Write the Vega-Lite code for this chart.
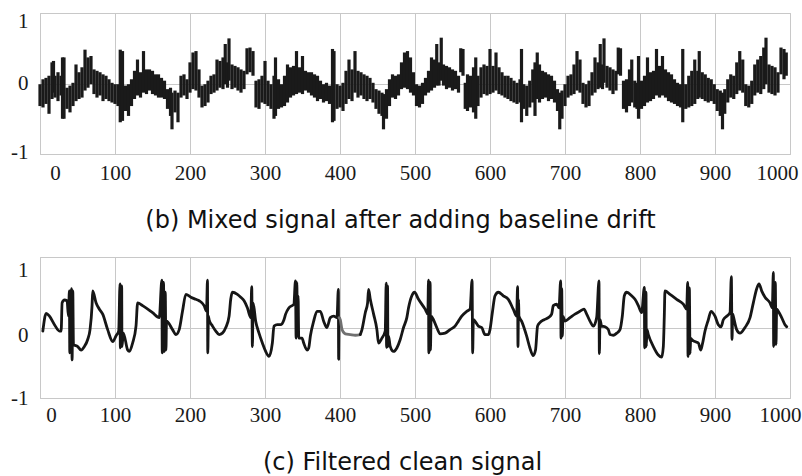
{
"$schema": "https://vega.github.io/schema/vega-lite/v6.json",
"background": "white",
"padding": {"left": 10, "top": 9, "right": 5, "bottom": 0},
"config": {
 "view": {"stroke": "#bdbdbd", "strokeWidth": 1},
 "axis": {"domain": false, "ticks": false, "grid": true, "gridColor": "#c8c8c8", "gridWidth": 1,
  "labelFont": "Liberation Serif", "labelFontSize": 21, "labelColor": "#1a1a1a",
  "labelFlush": false, "labelOverlap": false, "labelBound": false,
  "titleFont": "DejaVu Sans", "titleFontSize": 24, "titleFontWeight": "normal", "titleColor": "#111111"}
},
"spacing": 103,
"bounds": "flush",
"vconcat": [
 {
  "width": 750, "height": 141,
  "data": {"name": "mixed"},
  "mark": {"type": "rule", "strokeWidth": 3.2, "color": "#1a1a1a"},
  "encoding": {
   "x": {"field": "x", "type": "quantitative", "scale": {"domain": [0, 1000], "nice": false, "zero": false},
    "axis": {"values": [0,100,200,300,400,500,600,700,800,900,1000], "labelExpr": "'' + datum.value", "labelPadding": 8,
     "labelOffset": {"condition": [{"test": "datum.value == 0", "value": 15}, {"test": "datum.value == 1000", "value": -13}], "value": 0},
     "title": "(b) Mixed signal after adding baseline drift", "titleX": 360, "titleY": 73, "titleBaseline": "alphabetic", "titleAlign": "center"}},
   "y": {"field": "lo", "type": "quantitative", "scale": {"domain": [-1, 1], "nice": false, "zero": false},
    "axis": {"values": [-1, 0, 1], "labelExpr": "'' + datum.value", "labelPadding": 12,
     "labelOffset": {"condition": [{"test": "datum.value == 1", "value": 8}, {"test": "datum.value == -1", "value": -2}], "value": 0},
     "title": null}},
   "y2": {"field": "hi"}
  }
 },
 {
  "width": 750, "height": 141,
  "data": {"name": "clean"},
  "mark": {"type": "line", "strokeWidth": 2.8, "strokeJoin": "round", "strokeCap": "round", "interpolate": "monotone"},
  "encoding": {
   "x": {"field": "x", "type": "quantitative", "scale": {"domain": [0, 1000], "nice": false, "zero": false},
    "axis": {"values": [0,100,200,300,400,500,600,700,800,900,1000], "labelExpr": "'' + datum.value", "labelPadding": 6,
     "labelOffset": {"condition": [{"test": "datum.value == 0", "value": 11}, {"test": "datum.value == 1000", "value": -10}], "value": 0},
     "title": "(c) Filtered clean signal", "titleX": 362, "titleY": 71, "titleBaseline": "alphabetic", "titleAlign": "center"}},
   "y": {"field": "y", "type": "quantitative", "scale": {"domain": [-1, 1], "nice": false, "zero": false},
    "axis": {"values": [-1, 0, 1], "labelExpr": "'' + datum.value", "labelPadding": 12,
     "labelOffset": {"condition": [{"test": "datum.value == 1", "value": 13}, {"test": "datum.value == 0", "value": 8}], "value": 0},
     "title": null}},
   "color": {"field": "p", "type": "nominal", "scale": {"domain": ["a", "g", "b"], "range": ["#161616", "#707070", "#161616"]}, "legend": null}
  }
 }
],
"datasets": {
 "mixed": [
{"x":0,"lo":-0.32,"hi":-0.01},{"x":4,"lo":-0.34,"hi":0.06},{"x":8,"lo":-0.29,"hi":0.08},{"x":12,"lo":-0.43,"hi":0.11},{"x":16,"lo":-0.22,"hi":0.30},{"x":18,"lo":-0.13,"hi":0.32},{"x":20,"lo":-0.20,"hi":0.11},{"x":24,"lo":-0.25,"hi":0.16},{"x":28,"lo":-0.17,"hi":0.11},{"x":30,"lo":-0.50,"hi":0.37},{"x":32,"lo":-0.50,"hi":0.37},{"x":36,"lo":-0.36,"hi":-0.06},{"x":40,"lo":-0.41,"hi":-0.03},{"x":44,"lo":-0.32,"hi":0.01},{"x":48,"lo":-0.25,"hi":0.27},{"x":52,"lo":-0.22,"hi":0.16},{"x":56,"lo":-0.20,"hi":0.23},{"x":60,"lo":-0.10,"hi":0.48},{"x":64,"lo":-0.06,"hi":0.37},{"x":68,"lo":-0.01,"hi":0.39},{"x":72,"lo":-0.15,"hi":0.20},{"x":76,"lo":-0.20,"hi":0.18},{"x":80,"lo":-0.17,"hi":0.16},{"x":84,"lo":-0.25,"hi":0.13},{"x":88,"lo":-0.22,"hi":0.11},{"x":92,"lo":-0.25,"hi":0.06},{"x":96,"lo":-0.27,"hi":0.01},{"x":100,"lo":-0.29,"hi":-0.01},{"x":104,"lo":-0.32,"hi":-0.01},{"x":107,"lo":-0.55,"hi":0.48},{"x":110,"lo":-0.53,"hi":0.46},{"x":114,"lo":-0.39,"hi":-0.03},{"x":118,"lo":-0.46,"hi":-0.01},{"x":122,"lo":-0.32,"hi":0.06},{"x":126,"lo":-0.22,"hi":0.18},{"x":130,"lo":-0.17,"hi":0.34},{"x":134,"lo":-0.20,"hi":0.16},{"x":138,"lo":-0.13,"hi":0.46},{"x":142,"lo":-0.15,"hi":0.20},{"x":146,"lo":-0.10,"hi":0.20},{"x":150,"lo":-0.15,"hi":0.18},{"x":154,"lo":-0.17,"hi":0.13},{"x":158,"lo":-0.20,"hi":0.13},{"x":162,"lo":-0.20,"hi":0.08},{"x":166,"lo":-0.22,"hi":0.04},{"x":170,"lo":-0.36,"hi":-0.08},{"x":174,"lo":-0.46,"hi":-0.06},{"x":176,"lo":-0.65,"hi":-0.13},{"x":180,"lo":-0.41,"hi":-0.10},{"x":184,"lo":-0.55,"hi":-0.13},{"x":188,"lo":-0.20,"hi":0.11},{"x":192,"lo":-0.17,"hi":0.13},{"x":196,"lo":-0.22,"hi":0.06},{"x":200,"lo":-0.13,"hi":0.30},{"x":204,"lo":-0.08,"hi":0.44},{"x":208,"lo":-0.10,"hi":0.46},{"x":212,"lo":-0.20,"hi":0.20},{"x":216,"lo":-0.34,"hi":-0.03},{"x":220,"lo":-0.32,"hi":-0.01},{"x":224,"lo":-0.27,"hi":0.04},{"x":228,"lo":-0.15,"hi":0.11},{"x":232,"lo":-0.13,"hi":0.13},{"x":236,"lo":-0.10,"hi":0.34},{"x":240,"lo":-0.06,"hi":0.32},{"x":244,"lo":-0.08,"hi":0.37},{"x":247,"lo":-0.01,"hi":0.56},{"x":250,"lo":-0.06,"hi":0.30},{"x":252,"lo":0.04,"hi":0.64},{"x":256,"lo":-0.08,"hi":0.27},{"x":260,"lo":-0.06,"hi":0.25},{"x":264,"lo":-0.10,"hi":0.23},{"x":268,"lo":-0.13,"hi":0.20},{"x":272,"lo":-0.08,"hi":0.18},{"x":276,"lo":0.13,"hi":0.50},{"x":280,"lo":0.16,"hi":0.51},{"x":284,"lo":0.11,"hi":0.46},{"x":288,"lo":-0.34,"hi":0.04},{"x":292,"lo":-0.36,"hi":0.06},{"x":296,"lo":-0.27,"hi":0.11},{"x":300,"lo":-0.29,"hi":0.32},{"x":304,"lo":-0.32,"hi":0.04},{"x":308,"lo":-0.36,"hi":-0.01},{"x":312,"lo":-0.50,"hi":0.11},{"x":314,"lo":-0.46,"hi":0.37},{"x":318,"lo":-0.36,"hi":0.06},{"x":322,"lo":-0.34,"hi":-0.01},{"x":326,"lo":-0.32,"hi":0.11},{"x":330,"lo":-0.27,"hi":0.27},{"x":334,"lo":-0.20,"hi":0.23},{"x":338,"lo":-0.17,"hi":0.25},{"x":342,"lo":-0.15,"hi":0.46},{"x":346,"lo":-0.13,"hi":0.23},{"x":350,"lo":-0.15,"hi":0.39},{"x":354,"lo":-0.10,"hi":0.18},{"x":358,"lo":-0.13,"hi":0.16},{"x":362,"lo":-0.17,"hi":0.16},{"x":366,"lo":-0.20,"hi":0.13},{"x":370,"lo":-0.25,"hi":0.11},{"x":374,"lo":-0.22,"hi":0.04},{"x":378,"lo":-0.27,"hi":-0.01},{"x":382,"lo":-0.25,"hi":0.01},{"x":386,"lo":-0.29,"hi":-0.03},{"x":390,"lo":-0.55,"hi":0.49},{"x":392,"lo":-0.53,"hi":0.46},{"x":396,"lo":-0.36,"hi":-0.01},{"x":400,"lo":-0.34,"hi":-0.03},{"x":404,"lo":-0.39,"hi":0.01},{"x":408,"lo":-0.29,"hi":0.18},{"x":412,"lo":-0.22,"hi":0.34},{"x":416,"lo":-0.25,"hi":0.20},{"x":420,"lo":-0.13,"hi":0.46},{"x":424,"lo":-0.20,"hi":0.18},{"x":428,"lo":-0.17,"hi":0.16},{"x":432,"lo":-0.22,"hi":0.13},{"x":436,"lo":-0.25,"hi":0.11},{"x":440,"lo":-0.22,"hi":0.08},{"x":444,"lo":-0.27,"hi":0.01},{"x":448,"lo":-0.36,"hi":-0.08},{"x":452,"lo":-0.43,"hi":-0.10},{"x":456,"lo":-0.46,"hi":-0.13},{"x":458,"lo":-0.65,"hi":-0.15},{"x":462,"lo":-0.50,"hi":-0.08},{"x":466,"lo":-0.32,"hi":0.06},{"x":470,"lo":-0.20,"hi":0.13},{"x":474,"lo":-0.22,"hi":0.11},{"x":478,"lo":-0.17,"hi":0.13},{"x":482,"lo":-0.08,"hi":0.30},{"x":486,"lo":-0.06,"hi":0.44},{"x":490,"lo":-0.08,"hi":0.46},{"x":494,"lo":-0.13,"hi":0.37},{"x":498,"lo":-0.17,"hi":0.16},{"x":502,"lo":-0.32,"hi":-0.01},{"x":506,"lo":-0.34,"hi":-0.03},{"x":510,"lo":-0.29,"hi":0.01},{"x":514,"lo":-0.17,"hi":0.08},{"x":518,"lo":-0.13,"hi":0.18},{"x":522,"lo":-0.10,"hi":0.37},{"x":526,"lo":-0.06,"hi":0.34},{"x":529,"lo":-0.03,"hi":0.56},{"x":532,"lo":-0.03,"hi":0.30},{"x":535,"lo":0.04,"hi":0.65},{"x":538,"lo":-0.03,"hi":0.27},{"x":542,"lo":-0.08,"hi":0.25},{"x":546,"lo":-0.06,"hi":0.23},{"x":550,"lo":-0.10,"hi":0.20},{"x":554,"lo":-0.08,"hi":0.18},{"x":558,"lo":-0.13,"hi":0.11},{"x":561,"lo":0.16,"hi":0.50},{"x":564,"lo":0.11,"hi":0.49},{"x":567,"lo":-0.36,"hi":0.01},{"x":570,"lo":-0.39,"hi":0.13},{"x":574,"lo":-0.34,"hi":0.11},{"x":578,"lo":-0.41,"hi":0.23},{"x":581,"lo":-0.50,"hi":0.37},{"x":584,"lo":-0.32,"hi":0.11},{"x":588,"lo":-0.20,"hi":0.23},{"x":592,"lo":-0.15,"hi":0.27},{"x":596,"lo":-0.17,"hi":0.25},{"x":600,"lo":-0.15,"hi":0.49},{"x":604,"lo":-0.13,"hi":0.25},{"x":608,"lo":-0.10,"hi":0.44},{"x":612,"lo":-0.15,"hi":0.23},{"x":616,"lo":-0.17,"hi":0.16},{"x":620,"lo":-0.20,"hi":0.11},{"x":624,"lo":-0.22,"hi":0.11},{"x":628,"lo":-0.25,"hi":0.08},{"x":632,"lo":-0.27,"hi":0.04},{"x":636,"lo":-0.29,"hi":0.01},{"x":640,"lo":-0.27,"hi":0.06},{"x":642,"lo":-0.55,"hi":0.49},{"x":645,"lo":-0.36,"hi":-0.01},{"x":649,"lo":-0.46,"hi":-0.03},{"x":653,"lo":-0.34,"hi":0.04},{"x":657,"lo":-0.27,"hi":0.20},{"x":660,"lo":-0.46,"hi":0.30},{"x":663,"lo":-0.22,"hi":0.44},{"x":666,"lo":-0.27,"hi":0.27},{"x":670,"lo":-0.22,"hi":0.18},{"x":674,"lo":-0.20,"hi":0.16},{"x":678,"lo":-0.25,"hi":0.13},{"x":682,"lo":-0.22,"hi":0.11},{"x":686,"lo":-0.27,"hi":0.04},{"x":690,"lo":-0.39,"hi":-0.08},{"x":693,"lo":-0.65,"hi":-0.13},{"x":696,"lo":-0.50,"hi":-0.10},{"x":700,"lo":-0.32,"hi":-0.01},{"x":704,"lo":-0.20,"hi":0.11},{"x":708,"lo":-0.17,"hi":0.13},{"x":712,"lo":-0.15,"hi":0.27},{"x":716,"lo":-0.10,"hi":0.46},{"x":720,"lo":-0.13,"hi":0.34},{"x":724,"lo":-0.29,"hi":0.01},{"x":728,"lo":-0.34,"hi":-0.01},{"x":732,"lo":-0.32,"hi":0.04},{"x":736,"lo":-0.17,"hi":0.16},{"x":740,"lo":-0.13,"hi":0.37},{"x":744,"lo":-0.08,"hi":0.30},{"x":747,"lo":-0.06,"hi":0.56},{"x":750,"lo":-0.08,"hi":0.27},{"x":752,"lo":0.01,"hi":0.64},{"x":756,"lo":-0.06,"hi":0.25},{"x":760,"lo":-0.10,"hi":0.23},{"x":764,"lo":-0.15,"hi":0.20},{"x":768,"lo":-0.10,"hi":0.18},{"x":771,"lo":0.13,"hi":0.51},{"x":774,"lo":0.11,"hi":0.50},{"x":778,"lo":-0.36,"hi":0.04},{"x":782,"lo":-0.41,"hi":0.06},{"x":786,"lo":-0.32,"hi":0.20},{"x":789,"lo":-0.27,"hi":0.34},{"x":793,"lo":-0.34,"hi":0.04},{"x":796,"lo":-0.36,"hi":0.01},{"x":798,"lo":-0.50,"hi":0.39},{"x":802,"lo":-0.36,"hi":0.04},{"x":806,"lo":-0.32,"hi":0.11},{"x":810,"lo":-0.27,"hi":0.37},{"x":814,"lo":-0.25,"hi":0.16},{"x":818,"lo":-0.22,"hi":0.18},{"x":822,"lo":-0.17,"hi":0.49},{"x":826,"lo":-0.20,"hi":0.25},{"x":830,"lo":-0.17,"hi":0.39},{"x":834,"lo":-0.20,"hi":0.20},{"x":838,"lo":-0.25,"hi":0.16},{"x":842,"lo":-0.27,"hi":0.13},{"x":846,"lo":-0.29,"hi":0.06},{"x":850,"lo":-0.32,"hi":0.01},{"x":854,"lo":-0.34,"hi":-0.01},{"x":857,"lo":-0.55,"hi":0.49},{"x":861,"lo":-0.36,"hi":-0.01},{"x":865,"lo":-0.34,"hi":0.11},{"x":869,"lo":-0.32,"hi":0.18},{"x":873,"lo":-0.29,"hi":0.34},{"x":877,"lo":-0.22,"hi":0.18},{"x":879,"lo":-0.20,"hi":0.46},{"x":883,"lo":-0.22,"hi":0.16},{"x":887,"lo":-0.25,"hi":0.13},{"x":891,"lo":-0.27,"hi":0.08},{"x":895,"lo":-0.25,"hi":0.06},{"x":899,"lo":-0.29,"hi":-0.01},{"x":903,"lo":-0.39,"hi":-0.08},{"x":907,"lo":-0.46,"hi":-0.10},{"x":910,"lo":-0.65,"hi":-0.13},{"x":913,"lo":-0.43,"hi":-0.08},{"x":917,"lo":-0.27,"hi":0.06},{"x":921,"lo":-0.20,"hi":0.13},{"x":925,"lo":-0.22,"hi":0.11},{"x":929,"lo":-0.15,"hi":0.30},{"x":933,"lo":-0.10,"hi":0.46},{"x":937,"lo":-0.13,"hi":0.34},{"x":941,"lo":-0.32,"hi":-0.01},{"x":945,"lo":-0.34,"hi":-0.03},{"x":949,"lo":-0.29,"hi":0.04},{"x":953,"lo":-0.17,"hi":0.27},{"x":957,"lo":-0.13,"hi":0.34},{"x":961,"lo":-0.15,"hi":0.39},{"x":965,"lo":-0.08,"hi":0.51},{"x":968,"lo":-0.01,"hi":0.65},{"x":972,"lo":-0.13,"hi":0.27},{"x":976,"lo":-0.15,"hi":0.25},{"x":980,"lo":-0.17,"hi":0.23},{"x":984,"lo":-0.13,"hi":0.16},{"x":988,"lo":0.13,"hi":0.51},{"x":992,"lo":0.06,"hi":0.49},{"x":995,"lo":0.11,"hi":0.44}
 ],
 "clean": [
{"x":3.8,"y":-0.05,"p":"a"},{"x":8.2,"y":0.20,"p":"a"},{"x":12.6,"y":0.16,"p":"a"},{"x":19.3,"y":0.04,"p":"a"},{"x":25.9,"y":-0.05,"p":"a"},{"x":28.2,"y":-0.05,"p":"a"},{"x":29.5,"y":0.35,"p":"a"},{"x":32.6,"y":0.39,"p":"a"},{"x":36.1,"y":0.38,"p":"a"},{"x":37.9,"y":0.16,"p":"a"},{"x":39.2,"y":0.52,"p":"a"},{"x":39.7,"y":-0.36,"p":"a"},{"x":40.6,"y":0.16,"p":"a"},{"x":41.9,"y":0.55,"p":"a"},{"x":42.8,"y":-0.46,"p":"a"},{"x":43.7,"y":0.52,"p":"a"},{"x":44.6,"y":-0.24,"p":"a"},{"x":50.3,"y":-0.27,"p":"a"},{"x":54.8,"y":-0.32,"p":"a"},{"x":59.2,"y":-0.27,"p":"a"},{"x":63.6,"y":-0.17,"p":"a"},{"x":66.7,"y":-0.03,"p":"a"},{"x":69.4,"y":0.31,"p":"a"},{"x":70.3,"y":0.52,"p":"a"},{"x":74.7,"y":0.35,"p":"a"},{"x":79.2,"y":0.26,"p":"a"},{"x":83.6,"y":0.19,"p":"a"},{"x":90.2,"y":-0.03,"p":"a"},{"x":97.0,"y":-0.20,"p":"a"},{"x":101.3,"y":-0.12,"p":"a"},{"x":104.9,"y":-0.05,"p":"a"},{"x":106.7,"y":0.62,"p":"a"},{"x":107.1,"y":-0.29,"p":"a"},{"x":108.0,"y":0.02,"p":"a"},{"x":108.9,"y":0.59,"p":"a"},{"x":109.3,"y":-0.27,"p":"a"},{"x":111.1,"y":-0.08,"p":"a"},{"x":116.9,"y":-0.32,"p":"a"},{"x":119.1,"y":-0.34,"p":"a"},{"x":123.5,"y":-0.22,"p":"a"},{"x":128.0,"y":0.02,"p":"a"},{"x":130.2,"y":0.35,"p":"a"},{"x":136.8,"y":0.31,"p":"a"},{"x":150.1,"y":0.21,"p":"a"},{"x":159.0,"y":0.14,"p":"a"},{"x":162.5,"y":0.67,"p":"a"},{"x":163.0,"y":-0.36,"p":"a"},{"x":163.9,"y":0.40,"p":"a"},{"x":164.7,"y":0.64,"p":"a"},{"x":165.6,"y":-0.34,"p":"a"},{"x":167.0,"y":0.50,"p":"a"},{"x":167.9,"y":-0.32,"p":"a"},{"x":168.7,"y":0.09,"p":"a"},{"x":176.7,"y":-0.03,"p":"a"},{"x":181.2,"y":-0.10,"p":"a"},{"x":185.6,"y":-0.03,"p":"a"},{"x":190.0,"y":0.23,"p":"a"},{"x":194.5,"y":0.47,"p":"a"},{"x":201.1,"y":0.43,"p":"a"},{"x":207.8,"y":0.40,"p":"a"},{"x":212.2,"y":0.38,"p":"a"},{"x":218.8,"y":0.31,"p":"a"},{"x":222.0,"y":0.23,"p":"a"},{"x":223.3,"y":0.67,"p":"a"},{"x":223.7,"y":-0.36,"p":"a"},{"x":224.6,"y":0.16,"p":"a"},{"x":225.5,"y":0.11,"p":"a"},{"x":230.0,"y":0.02,"p":"a"},{"x":234.4,"y":-0.05,"p":"a"},{"x":238.8,"y":-0.10,"p":"a"},{"x":243.2,"y":-0.08,"p":"a"},{"x":247.7,"y":0.00,"p":"a"},{"x":252.1,"y":0.16,"p":"a"},{"x":254.3,"y":0.40,"p":"a"},{"x":256.5,"y":0.50,"p":"a"},{"x":263.2,"y":0.47,"p":"a"},{"x":267.6,"y":0.43,"p":"a"},{"x":272.1,"y":0.38,"p":"a"},{"x":276.5,"y":0.28,"p":"a"},{"x":281.0,"y":0.14,"p":"a"},{"x":282.3,"y":0.58,"p":"a"},{"x":283.2,"y":-0.27,"p":"a"},{"x":284.1,"y":0.35,"p":"a"},{"x":287.6,"y":0.09,"p":"a"},{"x":292.0,"y":-0.08,"p":"a"},{"x":296.5,"y":-0.22,"p":"a"},{"x":300.9,"y":-0.34,"p":"a"},{"x":305.3,"y":-0.41,"p":"a"},{"x":309.8,"y":-0.22,"p":"a"},{"x":312.0,"y":0.02,"p":"a"},{"x":316.4,"y":0.04,"p":"a"},{"x":320.8,"y":0.04,"p":"a"},{"x":325.3,"y":0.11,"p":"a"},{"x":327.5,"y":0.19,"p":"a"},{"x":332.0,"y":0.28,"p":"a"},{"x":338.5,"y":0.33,"p":"a"},{"x":340.6,"y":0.66,"p":"a"},{"x":341.5,"y":-0.15,"p":"a"},{"x":342.4,"y":0.64,"p":"a"},{"x":343.2,"y":0.16,"p":"a"},{"x":344.1,"y":0.45,"p":"a"},{"x":345.0,"y":-0.15,"p":"a"},{"x":349.4,"y":-0.15,"p":"a"},{"x":351.6,"y":-0.22,"p":"a"},{"x":356.1,"y":-0.32,"p":"a"},{"x":358.3,"y":-0.29,"p":"a"},{"x":360.5,"y":-0.12,"p":"a"},{"x":364.9,"y":0.09,"p":"a"},{"x":369.4,"y":0.23,"p":"a"},{"x":373.8,"y":0.23,"p":"a"},{"x":378.2,"y":0.09,"p":"a"},{"x":382.6,"y":0.00,"p":"a"},{"x":387.1,"y":0.14,"p":"a"},{"x":391.6,"y":0.16,"p":"a"},{"x":396.0,"y":0.14,"p":"a"},{"x":397.8,"y":0.54,"p":"a"},{"x":398.2,"y":-0.45,"p":"a"},{"x":398.7,"y":0.14,"p":"a"},
{"x":398.7,"y":0.14,"p":"g"},{"x":400.4,"y":0.11,"p":"g"},{"x":402.7,"y":-0.03,"p":"g"},{"x":407.1,"y":-0.09,"p":"g"},{"x":413.7,"y":-0.10,"p":"g"},{"x":420.4,"y":-0.11,"p":"g"},{"x":427.1,"y":-0.10,"p":"g"},
{"x":427.1,"y":-0.10,"p":"b"},{"x":429.3,"y":-0.03,"p":"b"},{"x":433.7,"y":0.21,"p":"b"},{"x":436.8,"y":0.35,"p":"b"},{"x":438.1,"y":0.54,"p":"b"},{"x":440.4,"y":0.40,"p":"b"},{"x":444.8,"y":0.19,"p":"b"},{"x":449.2,"y":-0.03,"p":"b"},{"x":451.4,"y":-0.22,"p":"b"},{"x":455.9,"y":-0.15,"p":"b"},{"x":460.3,"y":-0.05,"p":"b"},{"x":461.6,"y":0.63,"p":"b"},{"x":462.1,"y":-0.28,"p":"b"},{"x":463.0,"y":-0.03,"p":"b"},{"x":463.4,"y":0.59,"p":"b"},{"x":463.9,"y":-0.27,"p":"b"},{"x":464.7,"y":-0.12,"p":"b"},{"x":467.0,"y":-0.27,"p":"b"},{"x":471.4,"y":-0.34,"p":"b"},{"x":475.8,"y":-0.29,"p":"b"},{"x":480.3,"y":-0.17,"p":"b"},{"x":484.7,"y":0.00,"p":"b"},{"x":489.1,"y":0.14,"p":"b"},{"x":491.4,"y":0.28,"p":"b"},{"x":495.8,"y":0.45,"p":"b"},{"x":499.3,"y":0.50,"p":"b"},{"x":504.7,"y":0.40,"p":"b"},{"x":513.5,"y":0.26,"p":"b"},{"x":517.1,"y":0.19,"p":"b"},{"x":518.0,"y":0.67,"p":"b"},{"x":518.4,"y":-0.36,"p":"b"},{"x":519.3,"y":0.40,"p":"b"},{"x":520.2,"y":0.64,"p":"b"},{"x":520.6,"y":-0.32,"p":"b"},{"x":521.5,"y":0.16,"p":"b"},{"x":524.6,"y":0.11,"p":"b"},{"x":529.0,"y":0.00,"p":"b"},{"x":533.5,"y":-0.09,"p":"b"},{"x":540.1,"y":-0.08,"p":"b"},{"x":546.8,"y":-0.03,"p":"b"},{"x":553.4,"y":0.02,"p":"b"},{"x":557.9,"y":0.09,"p":"b"},{"x":562.3,"y":0.16,"p":"b"},{"x":569.0,"y":0.23,"p":"b"},{"x":573.4,"y":0.26,"p":"b"},{"x":576.1,"y":0.67,"p":"b"},{"x":576.9,"y":-0.36,"p":"b"},{"x":577.8,"y":0.11,"p":"b"},{"x":580.0,"y":0.09,"p":"b"},{"x":584.5,"y":0.02,"p":"b"},{"x":588.9,"y":0.00,"p":"b"},{"x":593.3,"y":-0.10,"p":"b"},{"x":597.8,"y":-0.10,"p":"b"},{"x":600.0,"y":-0.03,"p":"b"},{"x":603.1,"y":0.21,"p":"b"},{"x":606.7,"y":0.45,"p":"b"},{"x":611.1,"y":0.50,"p":"b"},{"x":617.7,"y":0.45,"p":"b"},{"x":624.4,"y":0.40,"p":"b"},{"x":631.0,"y":0.26,"p":"b"},{"x":635.5,"y":0.16,"p":"b"},{"x":636.8,"y":0.58,"p":"b"},{"x":637.3,"y":-0.27,"p":"b"},{"x":638.1,"y":0.40,"p":"b"},{"x":638.6,"y":0.16,"p":"b"},{"x":642.1,"y":0.09,"p":"b"},{"x":648.8,"y":-0.12,"p":"b"},{"x":653.2,"y":-0.29,"p":"b"},{"x":657.6,"y":-0.40,"p":"b"},{"x":660.7,"y":-0.32,"p":"b"},{"x":663.4,"y":0.02,"p":"b"},{"x":666.5,"y":0.07,"p":"b"},{"x":672.2,"y":0.11,"p":"b"},{"x":677.8,"y":0.14,"p":"b"},{"x":682.2,"y":0.19,"p":"b"},{"x":684.4,"y":0.31,"p":"b"},{"x":688.9,"y":0.33,"p":"b"},{"x":692.0,"y":0.28,"p":"b"},{"x":694.2,"y":0.66,"p":"b"},{"x":694.7,"y":-0.15,"p":"b"},{"x":695.6,"y":0.55,"p":"b"},{"x":696.4,"y":-0.12,"p":"b"},{"x":697.3,"y":0.16,"p":"b"},{"x":700.0,"y":0.09,"p":"b"},{"x":706.7,"y":0.14,"p":"b"},{"x":713.3,"y":0.19,"p":"b"},{"x":720.0,"y":0.23,"p":"b"},{"x":725.3,"y":0.26,"p":"b"},{"x":728.9,"y":0.19,"p":"b"},{"x":733.3,"y":0.09,"p":"b"},{"x":737.8,"y":0.02,"p":"b"},{"x":742.2,"y":0.14,"p":"b"},{"x":745.3,"y":0.66,"p":"b"},{"x":745.8,"y":-0.37,"p":"b"},{"x":746.7,"y":0.11,"p":"b"},{"x":748.9,"y":0.02,"p":"b"},{"x":753.3,"y":0.01,"p":"b"},{"x":757.8,"y":-0.03,"p":"b"},{"x":760.0,"y":-0.10,"p":"b"},{"x":764.4,"y":-0.11,"p":"b"},{"x":768.9,"y":-0.08,"p":"b"},{"x":773.3,"y":-0.03,"p":"b"},{"x":776.4,"y":0.16,"p":"b"},{"x":779.1,"y":0.45,"p":"b"},{"x":782.2,"y":0.50,"p":"b"},{"x":788.9,"y":0.45,"p":"b"},{"x":793.3,"y":0.40,"p":"b"},{"x":797.8,"y":0.31,"p":"b"},{"x":802.2,"y":0.21,"p":"b"},{"x":805.8,"y":0.57,"p":"b"},{"x":806.2,"y":-0.29,"p":"b"},{"x":807.1,"y":0.16,"p":"b"},{"x":808.0,"y":0.50,"p":"b"},{"x":808.4,"y":-0.27,"p":"b"},{"x":809.3,"y":-0.03,"p":"b"},{"x":811.1,"y":-0.10,"p":"b"},{"x":817.8,"y":-0.27,"p":"b"},{"x":824.4,"y":-0.39,"p":"b"},{"x":828.9,"y":-0.42,"p":"b"},{"x":831.1,"y":-0.27,"p":"b"},{"x":832.4,"y":0.16,"p":"b"},{"x":833.3,"y":0.52,"p":"b"},{"x":840.0,"y":0.47,"p":"b"},{"x":848.9,"y":0.40,"p":"b"},{"x":857.8,"y":0.33,"p":"b"},{"x":862.2,"y":0.26,"p":"b"},{"x":863.6,"y":0.64,"p":"b"},{"x":864.0,"y":-0.41,"p":"b"},{"x":864.9,"y":0.40,"p":"b"},{"x":865.8,"y":0.56,"p":"b"},{"x":866.7,"y":-0.37,"p":"b"},{"x":867.6,"y":-0.15,"p":"b"},{"x":868.9,"y":-0.17,"p":"b"},{"x":873.3,"y":-0.20,"p":"b"},{"x":877.8,"y":-0.22,"p":"b"},{"x":880.9,"y":-0.32,"p":"b"},{"x":883.1,"y":-0.24,"p":"b"},{"x":886.7,"y":-0.05,"p":"b"},{"x":891.1,"y":0.11,"p":"b"},{"x":894.7,"y":0.23,"p":"b"},{"x":900.0,"y":0.16,"p":"b"},{"x":904.4,"y":0.04,"p":"b"},{"x":908.0,"y":0.01,"p":"b"},{"x":911.1,"y":0.11,"p":"b"},{"x":915.6,"y":0.16,"p":"b"},{"x":920.0,"y":0.21,"p":"b"},{"x":921.8,"y":0.72,"p":"b"},{"x":922.7,"y":-0.17,"p":"b"},{"x":923.6,"y":0.19,"p":"b"},{"x":924.4,"y":0.16,"p":"b"},{"x":928.9,"y":-0.03,"p":"b"},{"x":933.3,"y":-0.08,"p":"b"},{"x":940.0,"y":0.00,"p":"b"},{"x":946.7,"y":0.14,"p":"b"},{"x":951.1,"y":0.35,"p":"b"},{"x":955.6,"y":0.55,"p":"b"},{"x":958.7,"y":0.62,"p":"b"},{"x":962.2,"y":0.52,"p":"b"},{"x":966.7,"y":0.43,"p":"b"},{"x":973.3,"y":0.35,"p":"b"},{"x":976.4,"y":0.28,"p":"b"},{"x":977.8,"y":0.78,"p":"b"},{"x":978.2,"y":-0.27,"p":"b"},{"x":979.1,"y":0.35,"p":"b"},{"x":980.4,"y":0.64,"p":"b"},{"x":981.3,"y":-0.24,"p":"b"},{"x":982.2,"y":0.26,"p":"b"},{"x":984.4,"y":0.23,"p":"b"},{"x":988.9,"y":0.14,"p":"b"},{"x":993.3,"y":0.04,"p":"b"},{"x":995.6,"y":0.01,"p":"b"}
 ]
}
}
